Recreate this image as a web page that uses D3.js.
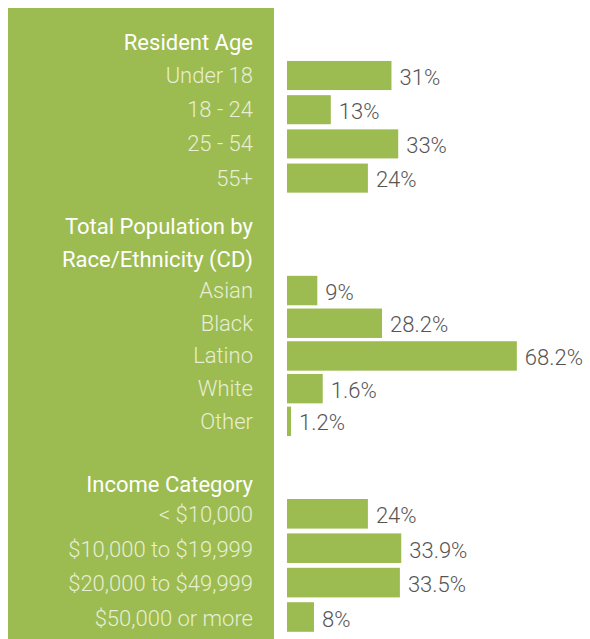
<!DOCTYPE html>
<html>
<head>
<meta charset="utf-8">
<script src="https://cdn.jsdelivr.net/npm/d3@7"></script>
<style>
  html, body { margin: 0; padding: 0; background: #ffffff; }
  svg { display: block; }
  text { font-family: Roboto, "Liberation Sans", sans-serif; }
</style>
</head>
<body>
<svg id="chart" width="590" height="639"></svg>
<script>
// ---- data ----
const ageTitle = ["Resident Age"];
const ageCategories = ["Under 18", "18 - 24", "25 - 54", "55+"];
const ageValues = [31, 13, 33, 24];
const ageLabels = ["31%", "13%", "33%", "24%"];

const raceTitle = ["Total Population by", "Race/Ethnicity (CD)"];
const raceCategories = ["Asian", "Black", "Latino", "White", "Other"];
const raceValues = [9, 28.2, 68.2, 10.6, 1.2];   // bar lengths as drawn in the source
const raceLabels = ["9%", "28.2%", "68.2%", "1.6%", "1.2%"];

const incomeTitle = ["Income Category"];
const incomeCategories = ["< $10,000", "$10,000 to $19,999", "$20,000 to $49,999", "$50,000 or more"];
const incomeValues = [24, 33.9, 33.5, 8];
const incomeLabels = ["24%", "33.9%", "33.5%", "8%"];

// ---- layout ----
const green = "#9cbb51";
const svg = d3.select("#chart");

svg.append("rect")
  .attr("x", 8).attr("y", 8)
  .attr("width", 266).attr("height", 640)
  .attr("fill", green);

const x = d3.scaleLinear().domain([0, 100]).range([287, 624]);
const labelRight = 253;

const sections = [
  { title: ageTitle, titleY: [49.5], cats: ageCategories, vals: ageValues, labs: ageLabels,
    y0: 58.4, step: 34.2, pad: 0.15, catOff: 7.5, valOff: 9 },
  { title: raceTitle, titleY: [233.5, 266.5], cats: raceCategories, vals: raceValues, labs: raceLabels,
    y0: 274.2, step: 32.7, pad: 0.1, catOff: 7.5, valOff: 9 },
  { title: incomeTitle, titleY: [491.5], cats: incomeCategories, vals: incomeValues, labs: incomeLabels,
    y0: 496.6, step: 34.4, pad: 0.14, catOff: 8.5, valOff: 9.5 }
];

sections.forEach(s => {
  const y = d3.scaleBand()
    .domain(s.cats)
    .range([s.y0, s.y0 + s.step * s.cats.length])
    .paddingInner(s.pad)
    .paddingOuter(s.pad / 2);

  const g = svg.append("g");

  g.selectAll("text.title")
    .data(s.title)
    .join("text")
    .attr("class", "title")
    .attr("x", labelRight)
    .attr("y", (d, i) => s.titleY[i])
    .attr("text-anchor", "end")
    .attr("fill", "#ffffff")
    .attr("font-size", 22)
    .attr("font-weight", 400)
    .text(d => d);

  const rows = s.cats.map((c, i) => ({ cat: c, val: s.vals[i], lab: s.labs[i] }));

  g.selectAll("rect.bar")
    .data(rows)
    .join("rect")
    .attr("class", "bar")
    .attr("x", x(0))
    .attr("y", d => y(d.cat))
    .attr("width", d => x(d.val) - x(0))
    .attr("height", y.bandwidth())
    .attr("fill", green);

  g.selectAll("text.cat")
    .data(rows)
    .join("text")
    .attr("class", "cat")
    .attr("x", labelRight)
    .attr("y", d => y(d.cat) + y.bandwidth() / 2 + s.catOff)
    .attr("text-anchor", "end")
    .attr("fill", "#e8eed4")
    .attr("font-size", 22)
    .attr("font-weight", 300)
    .text(d => d.cat);

  g.selectAll("text.val")
    .data(rows)
    .join("text")
    .attr("class", "val")
    .attr("x", d => x(d.val) + 8)
    .attr("y", d => y(d.cat) + y.bandwidth() / 2 + s.valOff)
    .attr("fill", "#555555")
    .attr("font-size", 22)
    .attr("font-weight", 300)
    .text(d => d.lab);
});
</script>
</body>
</html>
